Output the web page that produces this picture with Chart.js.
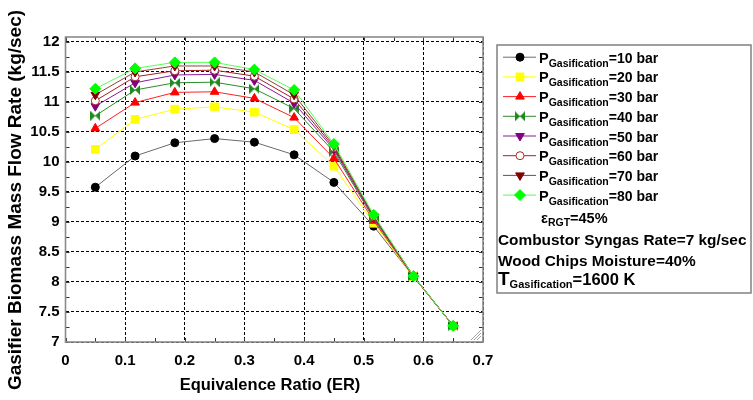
<!DOCTYPE html>
<html>
<head>
<meta charset="utf-8">
<script src="https://cdn.jsdelivr.net/npm/chart.js@4.4.0/dist/chart.umd.min.js"></script>
<style>
    html, body { margin: 0; padding: 0; background: #ffffff; }
    #wrap { position: relative; width: 753px; height: 400px; }
</style>
</head>
<body>
<div id="wrap"><canvas id="FlowChart"></canvas></div>
<script>
(function () {
    "use strict";

    // Data
    const erValues = [0.05, 0.1167, 0.1833, 0.25, 0.3167, 0.3833, 0.45, 0.5167, 0.5833, 0.65];
    const flow10 = [9.58, 10.10, 10.32, 10.39, 10.33, 10.12, 9.66, 8.93, 8.09, 7.27];
    const flow20 = [10.21, 10.71, 10.88, 10.92, 10.83, 10.54, 9.93, 8.98, 8.09, 7.27];
    const flow30 = [10.56, 10.99, 11.16, 11.17, 11.06, 10.74, 10.06, 9.02, 8.09, 7.27];
    const flow40 = [10.77, 11.20, 11.32, 11.33, 11.22, 10.89, 10.17, 9.05, 8.10, 7.27];
    const flow50 = [10.93, 11.32, 11.45, 11.46, 11.36, 10.98, 10.21, 9.07, 8.10, 7.27];
    const flow60 = [11.02, 11.42, 11.52, 11.53, 11.43, 11.05, 10.24, 9.09, 8.10, 7.27];
    const flow70 = [11.12, 11.50, 11.60, 11.60, 11.50, 11.12, 10.27, 9.10, 8.10, 7.27];
    const flow80 = [11.22, 11.56, 11.66, 11.66, 11.54, 11.20, 10.30, 9.12, 8.10, 7.27];
    const pressures = ["10 bar", "20 bar", "30 bar", "40 bar", "50 bar", "60 bar", "70 bar", "80 bar"];
    const xTickValues = [0, 0.1, 0.2, 0.3, 0.4, 0.5, 0.6, 0.7];
    const yTickValues = [7, 7.5, 8, 8.5, 9, 9.5, 10, 10.5, 11, 11.5, 12];
    const xTitle = "Equivalence Ratio (ER)";
    const yTitle = "Gasifier Biomass Mass Flow Rate (kg/sec)";

    const FONT = "'Liberation Sans', Arial, sans-serif";

    // bow-tie marker for the 40 bar series
    const bowtie = document.createElement("canvas");
    bowtie.width = 10;
    bowtie.height = 10;
    (function () {
        const c = bowtie.getContext("2d");
        c.fillStyle = "#1e8a1e";
        c.beginPath();
        c.moveTo(0, 0); c.lineTo(5, 5); c.lineTo(0, 10); c.closePath();
        c.moveTo(10, 0); c.lineTo(5, 5); c.lineTo(10, 10); c.closePath();
        c.fill();
    })();

    const seriesStyle = [
        { values: flow10, line: "#6a6a6a", fill: "#000000", stroke: "#000000", style: "circle", rot: 0, r: 4 },
        { values: flow20, line: "#ffff00", fill: "#ffff00", stroke: "#ffff00", style: "rect", rot: 0, r: 5.5 },
        { values: flow30, line: "#ff2020", fill: "#ff0000", stroke: "#ff0000", style: "triangle", rot: 0, r: 5 },
        { values: flow40, line: "#2a8c2a", fill: "#1e8a1e", stroke: "#1e8a1e", style: bowtie, rot: 0, r: 5 },
        { values: flow50, line: "#8a1a9a", fill: "#800080", stroke: "#800080", style: "triangle", rot: 180, r: 5 },
        { values: flow60, line: "#a02020", fill: "#ffffff", stroke: "#a03028", style: "circle", rot: 0, r: 4 },
        { values: flow70, line: "#904040", fill: "#800000", stroke: "#800000", style: "triangle", rot: 180, r: 5 },
        { values: flow80, line: "#55ff55", fill: "#00ff00", stroke: "#00ff00", style: "rectRot", rot: 0, r: 5.5 },
    ];

    const datasets = seriesStyle.map(function (s, i) {
        return {
            label: "P=" + pressures[i],
            data: erValues.map(function (x, k) { return { x: x, y: s.values[k] }; }),
            borderColor: s.line,
            borderWidth: 1,
            backgroundColor: s.fill,
            pointBackgroundColor: s.fill,
            pointBorderColor: s.stroke,
            pointBorderWidth: 1,
            pointStyle: s.style,
            pointRotation: s.rot,
            pointRadius: s.r,
            tension: 0,
            fill: false,
            order: seriesStyle.length - i,
        };
    });

    function drawParts(ctx, x, y, parts) {
        parts.forEach(function (p) {
            ctx.font = "bold " + p.size + "px " + FONT;
            ctx.fillText(p.text, x, y + (p.dy || 0));
            x += ctx.measureText(p.text).width;
        });
    }

    const decorations = {
        id: "decorations",
        beforeDatasetsDraw(chart) {
            const ctx = chart.ctx;
            const a = chart.chartArea;
            const xs = chart.scales.x;
            const ys = chart.scales.y;
            ctx.save();
            // minor ticks
            ctx.strokeStyle = "#333333";
            ctx.lineWidth = 1;
            ctx.beginPath();
            for (let v = 0; v <= 70; v += 5) {
                const px = Math.round(xs.getPixelForValue(v / 100)) + 0.5;
                ctx.moveTo(px, a.bottom); ctx.lineTo(px, a.bottom - 4);
                ctx.moveTo(px, a.top); ctx.lineTo(px, a.top + 4);
            }
            for (let v = 700; v <= 1200; v += 25) {
                const py = Math.round(ys.getPixelForValue(v / 100)) + 0.5;
                ctx.moveTo(a.left, py); ctx.lineTo(a.left + 4, py);
                ctx.moveTo(a.right, py); ctx.lineTo(a.right - 4, py);
            }
            ctx.stroke();
            // frame
            ctx.strokeStyle = "#8a8a8a";
            ctx.lineWidth = 1.6;
            ctx.strokeRect(a.left, a.top, a.right - a.left, a.bottom - a.top);
            // resize grip
            ctx.strokeStyle = "#a0a0a0";
            ctx.lineWidth = 1;
            ctx.beginPath();
            [4, 7, 10].forEach(function (d) {
                ctx.moveTo(a.right - 2, a.bottom - 2 - d);
                ctx.lineTo(a.right - 2 - d, a.bottom - 2);
            });
            ctx.stroke();
            ctx.restore();
        },
        afterDraw(chart) {
            const ctx = chart.ctx;
            ctx.save();
            ctx.fillStyle = "#000000";

            // axis titles
            ctx.textAlign = "center";
            ctx.textBaseline = "middle";
            ctx.font = "bold 16.5px " + FONT;
            ctx.fillText(xTitle, 270, 385);
            ctx.translate(16, 200);
            ctx.rotate(-Math.PI / 2);
            ctx.font = "bold 19px " + FONT;
            ctx.fillText(yTitle, 0, 0);
            ctx.setTransform(1, 0, 0, 1, 0, 0);

            // legend box
            ctx.strokeStyle = "#808080";
            ctx.lineWidth = 1.5;
            ctx.strokeRect(497, 45, 254, 248);

            ctx.textAlign = "left";
            ctx.textBaseline = "alphabetic";
            seriesStyle.forEach(function (s, i) {
                const base = 62.7 + i * 19.7;
                const cy = base - 5.5;
                ctx.strokeStyle = s.line;
                ctx.lineWidth = 1;
                ctx.beginPath();
                ctx.moveTo(503, cy);
                ctx.lineTo(536, cy);
                ctx.stroke();
                ctx.fillStyle = s.fill;
                ctx.strokeStyle = s.stroke;
                Chart.helpers.drawPoint(ctx, {
                    pointStyle: s.style, rotation: s.rot, radius: s.r, borderWidth: 1,
                }, 520, cy);
                ctx.fillStyle = "#000000";
                drawParts(ctx, 539, base, [
                    { text: "P", size: 14.5 },
                    { text: "Gasification", size: 10.5, dy: 4 },
                    { text: "=" + pressures[i], size: 14 },
                ]);
            });

            drawParts(ctx, 541, 222.7, [
                { text: "\u03b5", size: 14.5 },
                { text: "RGT", size: 10.5, dy: 3 },
                { text: "=45%", size: 14.5 },
            ]);
            drawParts(ctx, 498, 245, [{ text: "Combustor Syngas Rate=7 kg/sec", size: 15.4 }]);
            drawParts(ctx, 498, 266, [{ text: "Wood Chips Moisture=40%", size: 15.4 }]);
            drawParts(ctx, 498, 285, [
                { text: "T", size: 19 },
                { text: "Gasification", size: 11, dy: 3 },
                { text: "=1600 K", size: 16.5 },
            ]);
            ctx.restore();
        },
    };

    const chart_el = document.getElementById("FlowChart");
    if (chart_el != null) {
        const ctf = chart_el.getContext("2d");
        const FlowChart = new Chart(ctf, {
            type: "line",
            data: { datasets: datasets },
            options: {
                animation: false,
                responsive: true,
                maintainAspectRatio: false,
                devicePixelRatio: 1,
                layout: { padding: { top: 37, right: 270, bottom: 0, left: 0 } },
                plugins: {
                    legend: { display: false },
                    tooltip: { enabled: false },
                },
                scales: {
                    x: {
                        type: "linear",
                        min: 0,
                        max: 0.7,
                        afterBuildTicks: function (s) {
                            s.ticks = xTickValues.map(function (v) { return { value: v }; });
                        },
                        afterFit: function (s) { s.height = 58; },
                        border: { display: false, dash: [3, 2] },
                        grid: {
                            color: "#000000",
                            lineWidth: 1,
                            drawTicks: false,
                        },
                        ticks: {
                            padding: 10,
                            color: "#000000",
                            font: { family: FONT, size: 15, weight: "bold" },
                            maxRotation: 0,
                            callback: function (v) { return String(v); },
                        },
                    },
                    y: {
                        type: "linear",
                        min: 7,
                        max: 12.083,
                        afterBuildTicks: function (s) {
                            s.ticks = yTickValues.map(function (v) { return { value: v }; });
                        },
                        afterFit: function (s) { s.width = 65.5; },
                        border: { display: false, dash: [3, 2] },
                        grid: {
                            color: "#000000",
                            lineWidth: 1,
                            drawTicks: false,
                        },
                        ticks: {
                            padding: 6,
                            color: "#000000",
                            font: { family: FONT, size: 15, weight: "bold" },
                            callback: function (v) { return String(v); },
                        },
                    },
                },
            },
            plugins: [decorations],
        });
    }
})();
</script>
</body>
</html>
